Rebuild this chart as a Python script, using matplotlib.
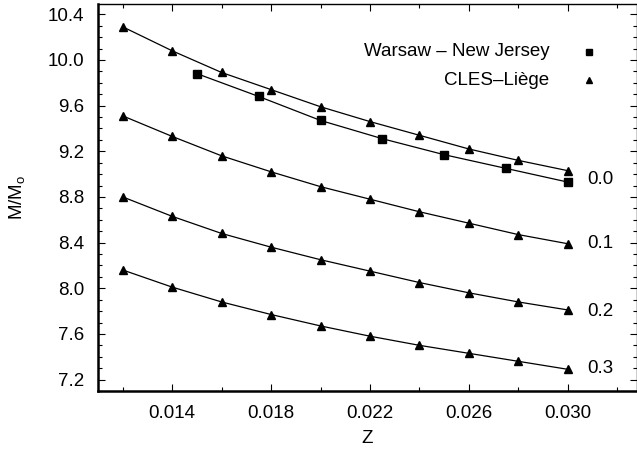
import matplotlib
matplotlib.use("Agg")
import matplotlib.pyplot as plt
from matplotlib.ticker import MultipleLocator

plt.rcParams['font.family'] = ['Liberation Sans', 'DejaVu Sans']

# CLES-Liege models, Z = 0.012 ... 0.030
z_cles = [0.012, 0.014, 0.016, 0.018, 0.020, 0.022, 0.024, 0.026, 0.028, 0.030]
m_00 = [10.29, 10.08, 9.89, 9.74, 9.59, 9.46, 9.34, 9.22, 9.12, 9.03]
m_01 = [9.51, 9.33, 9.16, 9.02, 8.89, 8.78, 8.67, 8.57, 8.47, 8.39]
m_02 = [8.80, 8.63, 8.48, 8.36, 8.25, 8.15, 8.05, 7.96, 7.88, 7.81]
m_03 = [8.16, 8.01, 7.88, 7.77, 7.67, 7.58, 7.50, 7.43, 7.36, 7.29]

# Warsaw - New Jersey models
z_wnj = [0.015, 0.0175, 0.020, 0.0225, 0.025, 0.0275, 0.030]
m_wnj = [9.88, 9.68, 9.47, 9.31, 9.17, 9.05, 8.93]

overshoot = ['0.0', '0.1', '0.2', '0.3']
label_y = [8.95, 8.39, 7.80, 7.30]

fig = plt.figure(figsize=(6.37, 4.51), dpi=100)
ax = fig.add_axes([98 / 637, 60 / 451, 539 / 637, 387 / 451])

for m in [m_00, m_01, m_02, m_03]:
    ax.plot(z_cles, m, color='black', lw=0.9, marker='^', ms=5.3)
ax.plot(z_wnj, m_wnj, color='black', lw=0.9, marker='s', ms=5.5)

for lab, y in zip(overshoot, label_y):
    ax.text(0.0308, y, lab, fontsize=13.5, va='center', ha='left')

# legend: text left of marker, like gnuplot
ax.text(0.02925, 10.07, 'Warsaw \u2013 New Jersey', fontsize=13.5, ha='right', va='center')
ax.plot([0.03086], [10.07], marker='s', color='black', ms=5, ls='none')
ax.text(0.02925, 9.82, 'CLES\u2013Li\u00e8ge', fontsize=13.5, ha='right', va='center')
ax.plot([0.03086], [9.82], marker='^', color='black', ms=5, ls='none')

ax.set_xlim(0.011, 0.0328)
ax.set_ylim(7.1, 10.49)
ax.set_xticks([0.014, 0.018, 0.022, 0.026, 0.030])
ax.set_xticklabels(['0.014', '0.018', '0.022', '0.026', '0.030'])
ax.xaxis.set_minor_locator(MultipleLocator(0.002))
ax.set_yticks([7.2, 7.6, 8.0, 8.4, 8.8, 9.2, 9.6, 10.0, 10.4])
ax.set_yticklabels(['7.2', '7.6', '8.0', '8.4', '8.8', '9.2', '9.6', '10.0', '10.4'])
ax.yaxis.set_minor_locator(MultipleLocator(0.1))
ax.tick_params(which='both', direction='in', top=True, right=True, labelsize=13.5, width=0.8)
ax.tick_params(which='major', length=5, pad=10)
ax.tick_params(which='minor', length=3)
ax.spines['left'].set_linewidth(1.8)
ax.spines['bottom'].set_linewidth(1.8)
ax.spines['top'].set_linewidth(1.0)
ax.spines['right'].set_linewidth(1.0)

ax.set_xlabel('Z', fontsize=13.5, labelpad=6)
ax.set_ylabel('M/M$_\\mathregular{o}$', fontsize=13.5, labelpad=14)

fig.savefig('out.png', dpi=100)
